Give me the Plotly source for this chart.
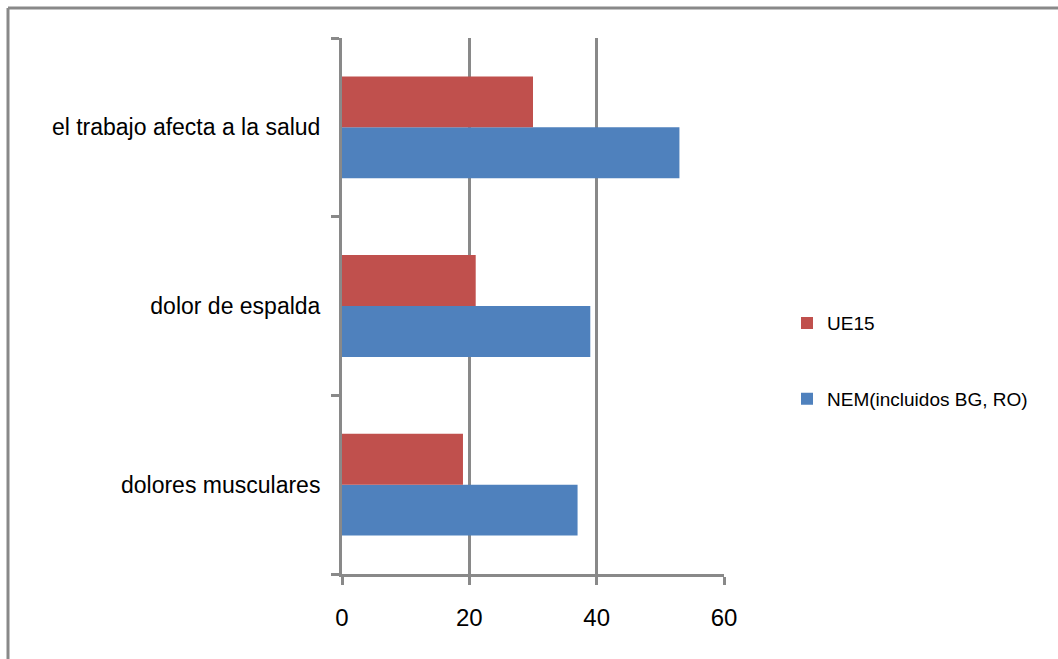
import plotly.graph_objects as go

categories = ["dolores musculares", "dolor de espalda", "el trabajo afecta a la salud"]
ue15 = [19, 21, 30]
nem = [37, 39, 53]
x_ticks = [0, 20, 40, 60]

W, H = 1058, 659
L, R, T, B = 342, 334, 38, 85
GRAY = "#898989"
FONT = "Liberation Sans"

fig = go.Figure()
fig.add_trace(go.Bar(
    y=categories, x=nem, orientation="h", name="NEM(incluidos BG, RO)",
    marker=dict(color="#4F81BD", line=dict(width=0)),
    legendgroup="b", legendrank=2,
))
fig.add_trace(go.Bar(
    y=categories, x=ue15, orientation="h", name="UE15",
    marker=dict(color="#C0504D", line=dict(width=0)),
    legendgroup="a", legendrank=1,
))

pw = W - L - R
ph = H - T - B
# outer frame (top and left edges)
fig.add_shape(type="line", xref="paper", yref="paper",
              x0=(8 - L) / pw, x1=(W + 5 - L) / pw,
              y0=(H - B - 8) / ph, y1=(H - B - 8) / ph,
              line=dict(color=GRAY, width=3))
fig.add_shape(type="line", xref="paper", yref="paper",
              x0=(8 - L) / pw, x1=(8 - L) / pw,
              y0=-(B + 5) / ph, y1=(H - B - 8) / ph,
              line=dict(color=GRAY, width=3))

fig.update_layout(
    width=W, height=H,
    margin=dict(l=L, r=R, t=T, b=B, pad=0),
    paper_bgcolor="white", plot_bgcolor="white",
    barmode="group", bargap=0.43, bargroupgap=0,
    font=dict(family=FONT, color="black"),
    showlegend=True,
    legend=dict(
        x=1 + (787 - (W - R)) / pw, y=0.397, xanchor="left", yanchor="middle",
        xref="paper", yref="paper",
        traceorder="grouped", tracegroupgap=48,
        font=dict(size=19, family=FONT), itemwidth=30,
    ),
    xaxis=dict(
        range=[0, 60], tickvals=x_ticks, ticktext=[str(v) for v in x_ticks],
        showgrid=True, gridcolor=GRAY, gridwidth=3,
        showline=True, linecolor=GRAY, linewidth=3,
        ticks="outside", ticklen=8, tickwidth=3, tickcolor=GRAY,
        tickfont=dict(size=24, family=FONT), zeroline=False,
        ticklabelstandoff=12,
    ),
    yaxis=dict(
        categoryorder="array", categoryarray=categories,
        showgrid=False, showline=True, linecolor=GRAY, linewidth=3,
        ticks="outside", ticklen=8, tickwidth=3, tickcolor=GRAY,
        tickson="boundaries", tickfont=dict(size=23, family=FONT),
        ticklabelstandoff=14,
    ),
)

fig.write_html("out.html")
